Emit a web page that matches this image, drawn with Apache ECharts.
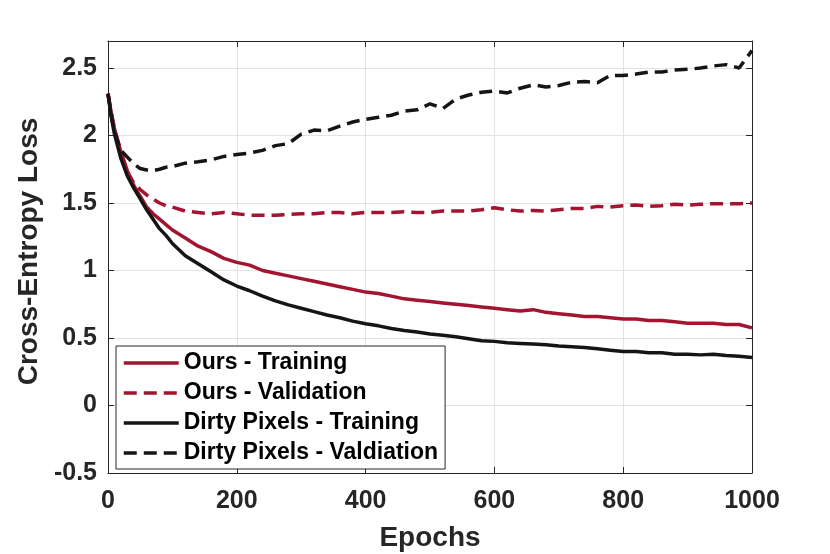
<!DOCTYPE html>
<html lang="en">
<head>
<meta charset="UTF-8">
<title>Cross-Entropy Loss</title>
<style>
  html, body { margin: 0; padding: 0; background: #fff; }
  #chart { width: 830px; height: 554px; }
</style>
</head>
<body>
<div id="chart"></div>
<script src="https://cdn.jsdelivr.net/npm/echarts@6.0.0/dist/echarts.min.js"></script>
<script>
var epochs = [0, 5, 10, 20, 30, 40, 50, 60, 70, 80, 90,
  100, 120, 140, 160, 180, 200, 220, 240, 260, 280,
  300, 320, 340, 360, 380, 400, 420, 440, 460, 480,
  500, 520, 540, 560, 580, 600, 620, 640, 660, 680,
  700, 720, 740, 760, 780, 800, 820, 840, 860, 880,
  900, 920, 940, 960, 980, 1000];

var oursTrain = [2.31, 2.17, 2.05, 1.88, 1.74, 1.63, 1.55, 1.47, 1.42, 1.38, 1.34,
  1.30, 1.24, 1.18, 1.14, 1.09, 1.06, 1.04, 1.00, 0.98, 0.96,
  0.94, 0.92, 0.90, 0.88, 0.86, 0.84, 0.83, 0.81, 0.79, 0.78,
  0.77, 0.76, 0.75, 0.74, 0.73, 0.72, 0.71, 0.70, 0.71, 0.69,
  0.68, 0.67, 0.66, 0.66, 0.65, 0.64, 0.64, 0.63, 0.63, 0.62,
  0.61, 0.61, 0.61, 0.60, 0.60, 0.575];

var oursVal = [2.31, 2.17, 2.05, 1.88, 1.73, 1.65, 1.60, 1.56, 1.53, 1.50, 1.48,
  1.47, 1.44, 1.43, 1.42, 1.43, 1.42, 1.41, 1.41, 1.41, 1.415,
  1.42, 1.42, 1.43, 1.43, 1.42, 1.43, 1.43, 1.43, 1.435, 1.43,
  1.43, 1.44, 1.44, 1.44, 1.45, 1.465, 1.45, 1.44, 1.445, 1.44,
  1.45, 1.46, 1.46, 1.475, 1.47, 1.48, 1.485, 1.475, 1.48, 1.49,
  1.485, 1.49, 1.495, 1.495, 1.495, 1.50];

var dirtyTrain = [2.31, 2.14, 2.01, 1.83, 1.70, 1.61, 1.53, 1.45, 1.38, 1.31, 1.26,
  1.20, 1.11, 1.05, 0.99, 0.93, 0.885, 0.85, 0.81, 0.775, 0.745,
  0.72, 0.695, 0.67, 0.65, 0.625, 0.605, 0.59, 0.57, 0.555, 0.545,
  0.53, 0.52, 0.51, 0.495, 0.48, 0.475, 0.465, 0.46, 0.455, 0.45,
  0.44, 0.435, 0.43, 0.42, 0.41, 0.40, 0.40, 0.39, 0.39, 0.38,
  0.38, 0.375, 0.38, 0.37, 0.365, 0.355];

var dirtyVal = [2.31, 2.15, 2.02, 1.89, 1.84, 1.79, 1.755, 1.745, 1.74, 1.75, 1.765,
  1.77, 1.795, 1.805, 1.82, 1.845, 1.86, 1.87, 1.89, 1.925, 1.94,
  2.01, 2.04, 2.035, 2.07, 2.10, 2.12, 2.135, 2.15, 2.18, 2.19,
  2.235, 2.20, 2.27, 2.30, 2.32, 2.33, 2.315, 2.35, 2.375, 2.36,
  2.37, 2.395, 2.40, 2.39, 2.445, 2.445, 2.455, 2.47, 2.47, 2.485,
  2.49, 2.50, 2.515, 2.525, 2.50, 2.63];

var seriesNames = ['Ours - Training', 'Ours - Validation',
  'Dirty Pixels - Training', 'Dirty Pixels - Valdiation'];

var FONT = '"Liberation Sans", Arial, Helvetica, sans-serif';
var AXIS_COLOR = '#262626';
var RED = '#a2142f';
var BLACK = '#151515';

function pairs(vals) {
  var out = [];
  for (var i = 0; i < epochs.length; i++) {
    out.push([epochs[i], vals[i]]);
  }
  return out;
}

function lineSeries(name, vals, color, dashed) {
  return {
    name: name,
    type: 'line',
    data: pairs(vals),
    showSymbol: false,
    symbol: 'none',
    silent: true,
    color: color,
    lineStyle: { color: color, width: 3.5, type: dashed ? [13, 7] : 'solid' }
  };
}

// only label the multiples of 0.5
function yLabel(v) {
  if (Math.abs(v * 2 - Math.round(v * 2)) > 1e-6) return '';
  return String(+v.toFixed(1));
}

var tickLabel = { fontSize: 25, fontWeight: 'bold', color: AXIS_COLOR, fontFamily: FONT };
var nameStyle = { fontSize: 28, fontWeight: 'bold', color: AXIS_COLOR, fontFamily: FONT };
var boxLine = { show: true, onZero: false, lineStyle: { color: AXIS_COLOR, width: 1 } };
var innerTick = { show: true, inside: true, length: 6, lineStyle: { color: AXIS_COLOR } };
var grid = { show: true, lineStyle: { color: '#e3e3e3', width: 1 } };

var myChart = echarts.init(document.getElementById('chart'));

var option = {
  animation: false,
  backgroundColor: '#fff',
  grid: { left: 108, right: 78, top: 41, bottom: 81, containLabel: false, outerBoundsMode: 'none' },
  legend: {
    orient: 'vertical',
    left: 116,
    top: 346,
    padding: [5, 7, 4, 6],
    itemWidth: 55,
    itemHeight: 14,
    itemGap: 6,
    backgroundColor: '#fff',
    borderColor: AXIS_COLOR,
    borderWidth: 1,
    borderRadius: 0,
    selectedMode: false,
    itemStyle: { opacity: 0 },
    lineStyle: { width: 3.5 },
    textStyle: { fontSize: 23, fontWeight: 'bold', color: '#000', fontFamily: FONT, lineHeight: 24 },
    data: seriesNames
  },
  xAxis: [
    {
      type: 'value', min: 0, max: 1000, interval: 200, position: 'bottom',
      axisLine: boxLine, axisTick: innerTick, splitLine: grid,
      axisLabel: Object.assign({ margin: 16, formatter: function (v) { return String(v); } }, tickLabel),
      name: 'Epochs', nameLocation: 'middle', nameGap: 51, nameTextStyle: nameStyle
    },
    {
      type: 'value', min: 0, max: 1000, interval: 200, position: 'top',
      axisLine: boxLine, axisTick: innerTick, splitLine: { show: false },
      axisLabel: { show: false }
    }
  ],
  yAxis: [
    {
      type: 'value', min: -0.5, max: 2.7, interval: 0.5, position: 'left',
      axisLine: boxLine, axisTick: innerTick, splitLine: grid,
      axisLabel: Object.assign({ margin: 11, formatter: yLabel }, tickLabel),
      name: 'Cross-Entropy Loss', nameLocation: 'middle', nameGap: 55,
      nameTextStyle: Object.assign({ padding: [0, 0, 0, 11] }, nameStyle)
    },
    {
      type: 'value', min: -0.5, max: 2.7, interval: 0.5, position: 'right',
      axisLine: boxLine, axisTick: innerTick, splitLine: { show: false },
      axisLabel: { show: false }
    }
  ],
  series: [
    lineSeries(seriesNames[0], oursTrain, RED, false),
    lineSeries(seriesNames[1], oursVal, RED, true),
    lineSeries(seriesNames[2], dirtyTrain, BLACK, false),
    lineSeries(seriesNames[3], dirtyVal, BLACK, true)
  ]
};

myChart.setOption(option);
</script>
</body>
</html>
